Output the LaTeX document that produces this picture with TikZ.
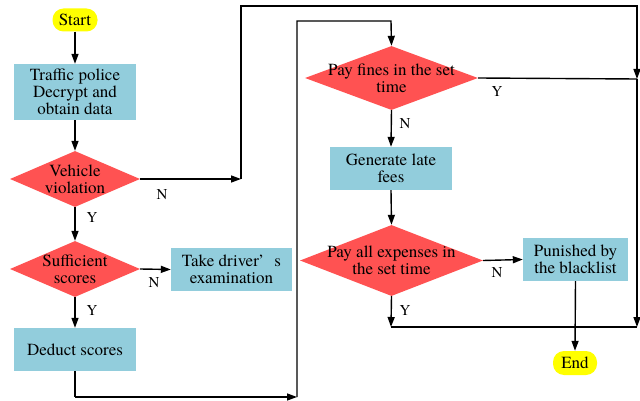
\documentclass[tikz,border=0pt]{standalone}
\usepackage{fontspec}
\setmainfont{texgyretermes}[Extension=.otf, UprightFont=*-regular, BoldFont=*-bold, ItalicFont=*-italic, BoldItalicFont=*-bolditalic]
\usetikzlibrary{shapes.geometric,arrows.meta}
\definecolor{boxblue}{RGB}{146,205,220}
\definecolor{diared}{RGB}{255,82,82}
\definecolor{termyel}{RGB}{255,255,0}
\begin{document}
\begin{tikzpicture}[x=1pt,y=-1pt,
  txt/.style={font=\rmfamily\fontsize{17}{17}\selectfont, align=center, inner sep=0pt},
  stepbox/.style={rectangle, fill=boxblue, draw=none, minimum width=122pt, minimum height=43pt, txt},
  dia/.style={diamond, fill=diared, draw=none, inner sep=0pt},
  term/.style={rectangle, rounded corners=11pt, fill=termyel, draw=none, minimum width=45pt, minimum height=23pt, txt},
  lab/.style={font=\rmfamily\fontsize{15}{17}\selectfont, inner sep=0pt},
  conn/.style={line width=1.4pt},
  arr/.style={conn, -{Triangle[length=10pt,width=7pt]}}
]
\useasboundingbox (0,0) rectangle (640,401);

% nodes
\node[term] (start) at (75,20) {Start};
\node[stepbox, minimum height=56pt] (tp) at (75,92) {Traffic police\\Decrypt and\\obtain data};
\node[dia, minimum width=130pt, minimum height=56pt] (vv) at (75,179) {};
\node[txt] at (vv) {Vehicle\\violation};
\node[dia, minimum width=130pt, minimum height=56pt] (ss) at (75,269) {};
\node[txt] at (ss) {Sufficient\\scores};
\node[stepbox, minimum width=121pt] (take) at (231.5,269.5) {Take driver’\hspace{0.6em}s\\examination};
\node[stepbox] (ded) at (75,349.5) {Deduct scores};
\node[dia, minimum width=173pt, minimum height=64pt] (pf) at (391.5,78) {};
\node[txt] at (pf) {Pay fines in the set\\time};
\node[stepbox] (gen) at (391,168.5) {Generate late\\fees};
\node[dia, minimum width=183pt, minimum height=71pt] (pa) at (391.5,260.5) {};
\node[txt] at (pa) {Pay all expenses in\\the set time};
\node[stepbox, minimum width=105pt] (pun) at (575.5,259.5) {Punished by\\the blacklist};
\node[term, minimum width=44pt, minimum height=24pt] (end) at (575,363) {End};

% junction coordinates
\coordinate (j1) at (241,179);
\coordinate (c1) at (241,6);
\coordinate (c2) at (637,6);
\coordinate (j2) at (637,79);
\coordinate (j3) at (637,327);
\coordinate (j4) at (391,327);
\coordinate (c5) at (75,397);
\coordinate (j5) at (297,397);
\coordinate (c3) at (297,21);
\coordinate (c4) at (391,21);

% connectors
\draw[arr] (start) -- (tp);
\draw[arr] (tp) -- (vv);
\draw[arr] (vv.east) -- (j1);
\draw[arr] (j1) -- (c1) -- (c2) -- (j2);
\draw[conn] (pf.east) -- (j2);
\draw[arr] (j2) -- (j3);
\draw[conn] (j3) -- (j4);
\draw[arr] (vv.south) -- (ss.north);
\draw[arr] (ss.east) -- (take.west);
\draw[arr] (ss.south) -- (ded.north);
\draw[conn] (ded.south) -- (c5);
\draw[arr] (c5) -- (j5);
\draw[arr] (j5) -- (c3) -- (c4) -- (pf.north);
\draw[arr] (pf.south) -- (gen.north);
\draw[arr] (gen.south) -- (pa.north);
\draw[arr] (pa.east) -- (pun.west);
\draw[arr] (pa.south) -- (j4);
\draw[arr] (pun.south) -- (end.north);

% labels
\node[lab] (lvn) at (162,195) {N};
\node[lab] (lvy) at (92,218) {Y};
\node[lab] (lsn) at (154,283) {N};
\node[lab] (lsy) at (92,311) {Y};
\node[lab] (lfy) at (497,92) {Y};
\node[lab] (lfn) at (405,124) {N};
\node[lab] (lan) at (497,273) {N};
\node[lab] (lay) at (405,311) {Y};
\end{tikzpicture}
\end{document}
